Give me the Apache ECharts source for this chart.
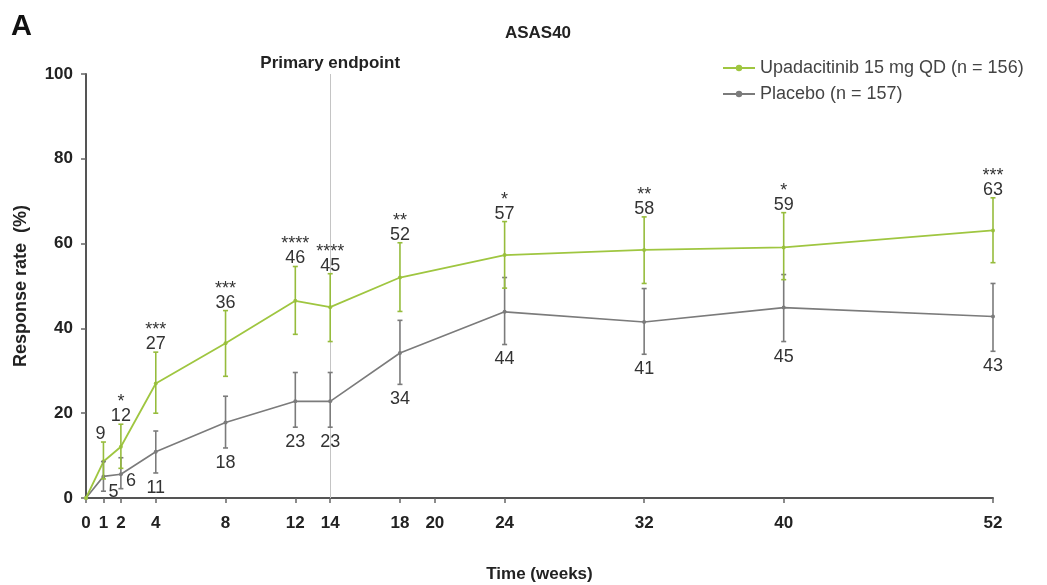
<!DOCTYPE html>
<html>
<head>
<meta charset="utf-8">
<script src="https://cdn.jsdelivr.net/npm/echarts@6/dist/echarts.min.js"></script>
<style>
html,body{margin:0;padding:0;background:#fff;}
#chart{width:1047px;height:585px;}
</style>
</head>
<body>
<div id="chart"></div>
<script>
// ---- data ----
const weeks = [0, 1, 2, 4, 8, 12, 14, 18, 24, 32, 40, 52];
const xTickValues = [0, 1, 2, 4, 8, 12, 14, 18, 20, 24, 32, 40, 52];
const upaValues = [0, 8.6, 12.1, 27.0, 36.5, 46.5, 45.0, 52.0, 57.3, 58.5, 59.1, 63.1];
const upaLow    = [null, 4.5, 7.0, 20.0, 28.7, 38.6, 36.9, 44.0, 49.5, 50.6, 51.5, 55.5];
const upaHigh   = [null, 13.2, 17.4, 34.4, 44.2, 54.6, 52.9, 60.2, 65.2, 66.3, 67.3, 70.8];
const upaLabels = ['', '9', '12', '27', '36', '46', '45', '52', '57', '58', '59', '63'];
const upaStars  = ['', '', '*', '***', '***', '****', '****', '**', '*', '**', '*', '***'];
const pboValues = [0, 5.1, 5.6, 10.9, 17.8, 22.8, 22.8, 34.2, 43.9, 41.5, 44.9, 42.8];
const pboLow    = [null, 1.6, 2.2, 5.9, 11.8, 16.7, 16.7, 26.8, 36.2, 33.9, 36.9, 34.6];
const pboHigh   = [null, 8.6, 9.5, 15.8, 24.0, 29.6, 29.6, 41.9, 52.0, 49.4, 52.7, 50.6];
const pboLabels = ['', '5', '6', '11', '18', '23', '23', '34', '44', '41', '45', '43'];
const upaName = 'Upadacitinib 15 mg QD (n = 156)';
const pboName = 'Placebo (n = 157)';

// ---- styles ----
const GREEN = '#9fc640';
const GREEN_BAR = '#96bc3c';
const GRAY = '#7b7b7b';
const LABEL_FONT = '"Liberation Sans", Arial, sans-serif';

function barData(low, high, vals) {
  const out = [];
  for (let i = 0; i < weeks.length; i++) {
    if (low[i] == null) continue;
    out.push([weeks[i], low[i], high[i], vals[i], i]);
  }
  return out;
}

function makeRender(isUpa) {
  return function (params, api) {
    const x = api.value(0), lo = api.value(1), hi = api.value(2), idx = api.value(4);
    const pLo = api.coord([x, lo]);
    const pHi = api.coord([x, hi]);
    const color = isUpa ? GREEN_BAR : GRAY;
    const cap = 2.5;
    const ls = { stroke: color, lineWidth: 1.6 };
    const children = [
      { type: 'line', shape: { x1: pLo[0], y1: pLo[1], x2: pHi[0], y2: pHi[1] }, style: ls },
      { type: 'line', shape: { x1: pLo[0] - cap, y1: pLo[1], x2: pLo[0] + cap, y2: pLo[1] }, style: ls },
      { type: 'line', shape: { x1: pHi[0] - cap, y1: pHi[1], x2: pHi[0] + cap, y2: pHi[1] }, style: ls }
    ];
    if (isUpa) {
      const dx = idx === 1 ? -3 : 0;
      children.push({ type: 'text', style: { text: upaLabels[idx], x: pHi[0] + dx, y: pHi[1] + 1, align: 'center', verticalAlign: 'bottom', fontSize: 18, fontFamily: LABEL_FONT, fill: '#333' } });
      if (upaStars[idx]) {
        children.push({ type: 'text', style: { text: upaStars[idx], x: pHi[0], y: pHi[1] - 13, align: 'center', verticalAlign: 'bottom', fontSize: 18, fontFamily: LABEL_FONT, fill: '#333' } });
      }
    } else {
      if (idx === 1 || idx === 2) {
        const dy = idx === 1 ? 1 : -8;
        children.push({ type: 'text', style: { text: pboLabels[idx], x: pLo[0] + 5, y: pLo[1] + dy, align: 'left', verticalAlign: 'middle', fontSize: 18, fontFamily: LABEL_FONT, fill: '#333' } });
      } else {
        children.push({ type: 'text', style: { text: pboLabels[idx], x: pLo[0], y: pLo[1] + 6, align: 'center', verticalAlign: 'top', fontSize: 18, fontFamily: LABEL_FONT, fill: '#333' } });
      }
    }
    return { type: 'group', children: children };
  };
}

const chart = echarts.init(document.getElementById('chart'), null, { renderer: 'canvas' });
const axisFont = { fontFamily: LABEL_FONT, fontWeight: 'bold', fontSize: 17, color: '#222' };

chart.setOption({
  backgroundColor: '#fff',
  animation: false,
  textStyle: { fontFamily: LABEL_FONT },
  grid: { left: 86, right: 54, top: 74, bottom: 87, containLabel: false, outerBoundsMode: 'none' },
  graphic: [
    { type: 'text', left: 11, top: 12, style: { text: 'A', fontSize: 29, fontWeight: 'bold', fontFamily: LABEL_FONT, fill: '#111' } },
    { type: 'text', x: 538, y: 33, style: { text: 'ASAS40', align: 'center', verticalAlign: 'middle', fontSize: 17, fontWeight: 'bold', fontFamily: LABEL_FONT, fill: '#222' } }
  ],
  legend: {
    data: [upaName, pboName],
    orient: 'vertical',
    left: 717,
    top: 54,
    itemWidth: 32,
    itemHeight: 8,
    itemGap: 8,
    textStyle: { fontSize: 18, color: '#444', fontFamily: LABEL_FONT }
  },
  xAxis: {
    type: 'value',
    min: 0,
    max: 52,
    name: 'Time (weeks)',
    nameLocation: 'middle',
    nameGap: 68,
    nameTextStyle: { fontFamily: LABEL_FONT, fontWeight: 'bold', fontSize: 17, color: '#222' },
    axisLine: { show: true, lineStyle: { color: '#555', width: 2 } },
    axisTick: { show: true, length: 5, customValues: xTickValues, lineStyle: { color: '#666', width: 1.5 } },
    axisLabel: Object.assign({ customValues: xTickValues, margin: 17 }, axisFont),
    splitLine: { show: false }
  },
  yAxis: {
    type: 'value',
    min: 0,
    max: 100,
    interval: 20,
    name: 'Response rate  (%)',
    nameLocation: 'middle',
    nameGap: 56,
    nameTextStyle: { fontFamily: LABEL_FONT, fontWeight: 'bold', fontSize: 18, color: '#222' },
    axisLine: { show: true, lineStyle: { color: '#555', width: 2 } },
    axisTick: { show: true, length: 5, lineStyle: { color: '#666', width: 1.5 } },
    axisLabel: Object.assign({ margin: 13 }, axisFont),
    splitLine: { show: false }
  },
  series: [
    {
      name: pboName,
      type: 'line',
      data: weeks.map((w, i) => [w, pboValues[i]]),
      color: GRAY,
      lineStyle: { color: GRAY, width: 1.6 },
      symbol: 'circle',
      symbolSize: 4,
      itemStyle: { color: GRAY },
      z: 3
    },
    {
      name: upaName,
      type: 'line',
      data: weeks.map((w, i) => [w, upaValues[i]]),
      color: GREEN,
      lineStyle: { color: GREEN, width: 1.8 },
      symbol: 'circle',
      symbolSize: 4,
      itemStyle: { color: GREEN },
      z: 4,
      markLine: {
        silent: true,
        symbol: 'none',
        animation: false,
        lineStyle: { color: '#c4c4c4', width: 1, type: 'solid' },
        label: { show: true, position: 'end', formatter: 'Primary endpoint', distance: 2, fontFamily: LABEL_FONT, fontWeight: 'bold', fontSize: 17, color: '#222' },
        data: [{ xAxis: 14 }]
      }
    },
    {
      name: 'pboBars',
      type: 'custom',
      renderItem: makeRender(false),
      data: barData(pboLow, pboHigh, pboValues),
      encode: { x: 0, y: [1, 2] },
      z: 5
    },
    {
      name: 'upaBars',
      type: 'custom',
      renderItem: makeRender(true),
      data: barData(upaLow, upaHigh, upaValues),
      encode: { x: 0, y: [1, 2] },
      z: 6
    }
  ]
});
</script>
</body>
</html>
